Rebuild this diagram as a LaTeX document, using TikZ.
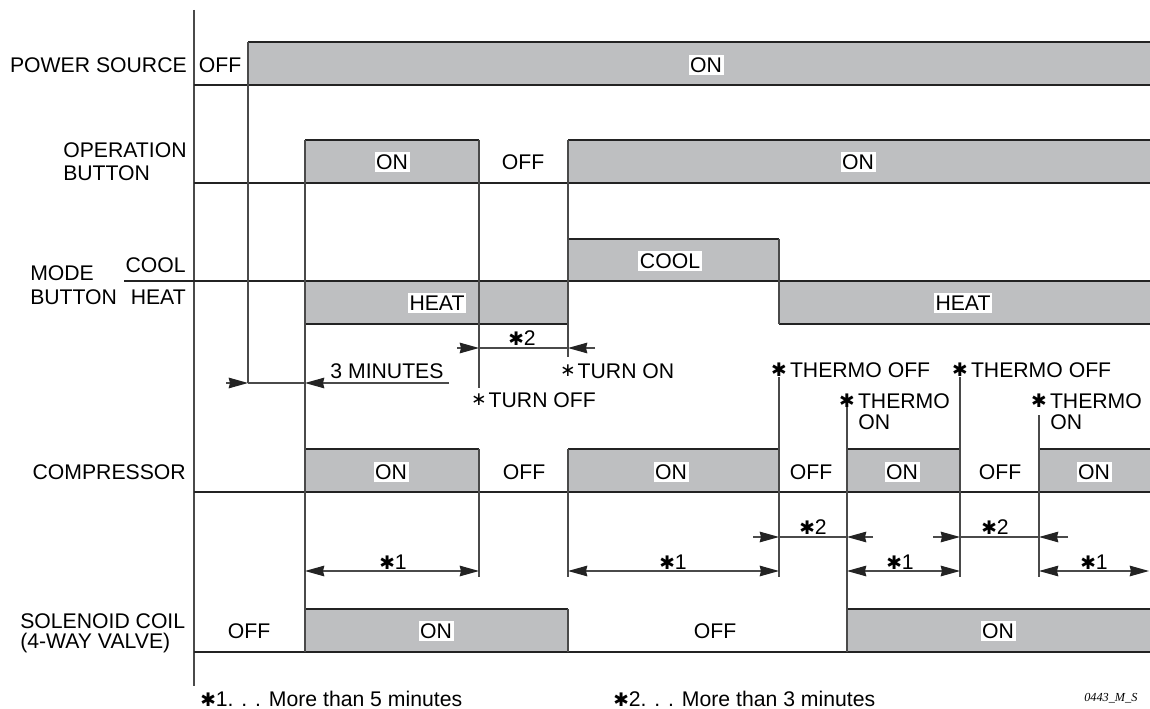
\documentclass[tikz,border=0pt]{standalone}
\usepackage{fontspec}
\setmainfont{Liberation Sans}
\newfontfamily\symf{DejaVu Sans}
\newfontfamily\serifit{Liberation Serif}
\usetikzlibrary{arrows.meta}
\definecolor{boxgray}{HTML}{BEBFC1}
\definecolor{ink}{HTML}{232323}
\definecolor{vink}{HTML}{4A4A4A}
\newcommand{\hast}{{\symf\fontsize{14}{14}\selectfont ✱}}
\newcommand{\tast}{{\symf\fontsize{14}{14}\selectfont ∗}}
\begin{document}
\begin{tikzpicture}[x=0.75pt,y=-0.75pt,
  font=\fontsize{15.9}{15.9}\selectfont,
  ln/.style={draw=ink,line width=1.15pt},
  vl/.style={draw=vink,line width=0.95pt},
  dim/.style={draw=vink,line width=0.85pt},
  tip/.style={dim,-{Stealth[length=14.5pt,width=8pt,inset=1pt,color=ink]}},
  dtip/.style={dim,{Stealth[length=14.5pt,width=8pt,inset=1pt,color=ink]}-{Stealth[length=14.5pt,width=8pt,inset=1pt,color=ink]}},
  lbl/.style={inner sep=0pt},
  onl/.style={fill=white,inner xsep=1.2pt,inner ysep=2pt,text height=11.4pt,text depth=0pt},
  sig/.style={fill=boxgray}]
\useasboundingbox (0,0) rectangle (1150,709);
% ---------- fills ----------
\fill[sig] (248,42) rectangle (1150,85);
\fill[sig] (305,140) rectangle (479,183);
\fill[sig] (568,140) rectangle (1150,183);
\fill[sig] (305,281) rectangle (568,324);
\fill[sig] (568,239) rectangle (779,281);
\fill[sig] (779,281) rectangle (1150,324);
\fill[sig] (305,449) rectangle (479,492);
\fill[sig] (568,449) rectangle (779,492);
\fill[sig] (847,449) rectangle (960,492);
\fill[sig] (1039,449) rectangle (1150,492);
\fill[sig] (305,609) rectangle (568,652);
\fill[sig] (847,609) rectangle (1150,652);
% ---------- axis and baselines ----------
\draw[vl] (194,10) -- (194,686);
\draw[ln] (194,85) -- (1150,85);
\draw[ln] (194,183) -- (1150,183);
\draw[ln] (124,281) -- (1150,281);
\draw[ln] (194,492) -- (1150,492);
\draw[ln] (194,652) -- (1150,652);
% ---------- box top edges ----------
\draw[ln] (248,42) -- (1150,42);
\draw[ln] (305,140) -- (479,140);
\draw[ln] (568,140) -- (1150,140);
\draw[ln] (568,239) -- (779,239);
\draw[ln] (305,324) -- (568,324);
\draw[ln] (779,324) -- (1150,324);
\draw[ln] (305,449) -- (479,449);
\draw[ln] (568,449) -- (779,449);
\draw[ln] (847,449) -- (960,449);
\draw[ln] (1039,449) -- (1150,449);
\draw[ln] (305,609) -- (568,609);
\draw[ln] (847,609) -- (1150,609);
% ---------- vertical event lines ----------
\draw[vl] (248,42) -- (248,383);
\draw[vl] (305,140) -- (305,652);
\draw[vl] (479,140) -- (479,388);
\draw[vl] (479,449) -- (479,577);
\draw[vl] (568,140) -- (568,357);
\draw[vl] (568,449) -- (568,577);
\draw[vl] (568,609) -- (568,652);
\draw[vl] (779,239) -- (779,324);
\draw[vl] (779,377) -- (779,577);
\draw[vl] (847,407) -- (847,652);
\draw[vl] (960,377) -- (960,577);
\draw[vl] (1039,415) -- (1039,577);
% ---------- dimension arrows ----------
\coordinate (m0) at (226,383); \coordinate (m1) at (248,383);
\coordinate (m2) at (305,383); \coordinate (m3) at (449,383);
\draw[tip] (m0) -- (m1);
\draw[dim] (m1) -- (m2);
\draw[tip] (m3) -- (m2);
\coordinate (a0) at (457,348); \coordinate (a1) at (479,348);
\coordinate (a2) at (568,348); \coordinate (a3) at (595,348);
\draw[tip] (a0) -- (a1); \draw[dim] (a1) -- (a2); \draw[tip] (a3) -- (a2);
\coordinate (b0) at (753,537); \coordinate (b1) at (779,537);
\coordinate (b2) at (847,537); \coordinate (b3) at (873,537);
\draw[tip] (b0) -- (b1); \draw[dim] (b1) -- (b2); \draw[tip] (b3) -- (b2);
\coordinate (c0) at (933,537); \coordinate (c1) at (960,537);
\coordinate (c2) at (1039,537); \coordinate (c3) at (1068,537);
\draw[tip] (c0) -- (c1); \draw[dim] (c1) -- (c2); \draw[tip] (c3) -- (c2);
\coordinate (d0) at (305,571); \coordinate (d1) at (479,571);
\coordinate (d2) at (568,571); \coordinate (d3) at (779,571);
\coordinate (d4) at (847,571); \coordinate (d5) at (960,571);
\coordinate (d6) at (1039,571); \coordinate (d7) at (1149,571);
\draw[dtip] (d0) -- (d1);
\draw[dtip] (d2) -- (d3);
\draw[dtip] (d4) -- (d5);
\draw[dtip] (d6) -- (d7);
% ---------- dimension labels ----------
\node[lbl] (l3m) at (387,371) {3 MINUTES};
\node[lbl] (l2a) at (522,338) {\hast2};
\node[lbl] (l2b) at (813,527) {\hast2};
\node[lbl] (l2c) at (995,527) {\hast2};
\node[lbl] (l1a) at (393,562) {\hast1};
\node[lbl] (l1b) at (673,562) {\hast1};
\node[lbl] (l1c) at (900,562) {\hast1};
\node[lbl] (l1d) at (1094,562) {\hast1};
% ---------- event labels ----------
\node[lbl] (toffa) at (479,400) {\tast};
\node[lbl,anchor=west] (toff) at ([xshift=1pt]toffa.east) {TURN OFF};
\node[lbl] (tona) at (568,371) {\tast};
\node[lbl,anchor=west] (ton) at ([xshift=1pt]tona.east) {TURN ON};
\node[lbl] (th1a) at (779,370) {\hast};
\node[lbl,anchor=west] (th1) at ([xshift=2pt]th1a.east) {THERMO OFF};
\node[lbl] (th2a) at (960,370) {\hast};
\node[lbl,anchor=west] (th2) at ([xshift=2pt]th2a.east) {THERMO OFF};
\node[lbl] (tn1a) at (847,401) {\hast};
\node[lbl,anchor=west] (tn1) at ([xshift=2pt]tn1a.east) {THERMO};
\node[lbl,anchor=west] (tn1b) at (858,422) {ON};
\node[lbl] (tn2a) at (1039,401) {\hast};
\node[lbl,anchor=west] (tn2) at ([xshift=2pt]tn2a.east) {THERMO};
\node[lbl,anchor=west] (tn2b) at (1050,422) {ON};
% ---------- row labels ----------
\node[lbl,anchor=east] (rp) at (187,65) {POWER SOURCE};
\node[lbl] (pof) at (220,65) {OFF};
\node[lbl,anchor=west] (ro1) at (63,150) {OPERATION};
\node[lbl,anchor=west] (ro2) at (63,173) {BUTTON};
\node[lbl,anchor=west] (rm1) at (30,273) {MODE};
\node[lbl,anchor=west] (rm2) at (30,297) {BUTTON};
\node[lbl,anchor=east] (rmc) at (186,265) {COOL};
\node[lbl,anchor=east] (rmh) at (186,297) {HEAT};
\node[lbl,anchor=east] (rc) at (186,472) {COMPRESSOR};
\node[lbl,anchor=west] (rs1) at (20,621) {SOLENOID COIL};
\node[lbl,anchor=west] (rs2) at (20,643) {(4-WAY VALVE)};
% ---------- state labels ----------
\node[onl] (pon) at (706,65) {ON};
\node[onl] (o1) at (392,162) {ON};
\node[lbl] (o2) at (523,162) {OFF};
\node[onl] (o3) at (858,162) {ON};
\node[onl] (mh1) at (437,303) {HEAT};
\node[onl] (mc) at (670,261) {COOL};
\node[onl] (mh2) at (963,303) {HEAT};
\node[onl] (c1) at (391,472) {ON};
\node[lbl] (c2) at (524,472) {OFF};
\node[onl] (c3) at (671,472) {ON};
\node[lbl] (c4) at (811,472) {OFF};
\node[onl] (c5) at (902,472) {ON};
\node[lbl] (c6) at (1000,472) {OFF};
\node[onl] (c7) at (1094,472) {ON};
\node[lbl] (s1) at (249,631) {OFF};
\node[onl] (s2) at (436,631) {ON};
\node[lbl] (s3) at (715,631) {OFF};
\node[onl] (s4) at (998,631) {ON};
% ---------- footnotes ----------
\node[lbl,anchor=west] (f1) at (200,699) {\hast1. . . More than 5 minutes};
\node[lbl,anchor=west] (f2) at (613,699) {\hast2. . . More than 3 minutes};
\node[lbl,anchor=west,font=\serifit\itshape\fontsize{9.2}{9.2}\selectfont] (fid) at (1084,698) {0443\_M\_S};
\end{tikzpicture}
\end{document}
